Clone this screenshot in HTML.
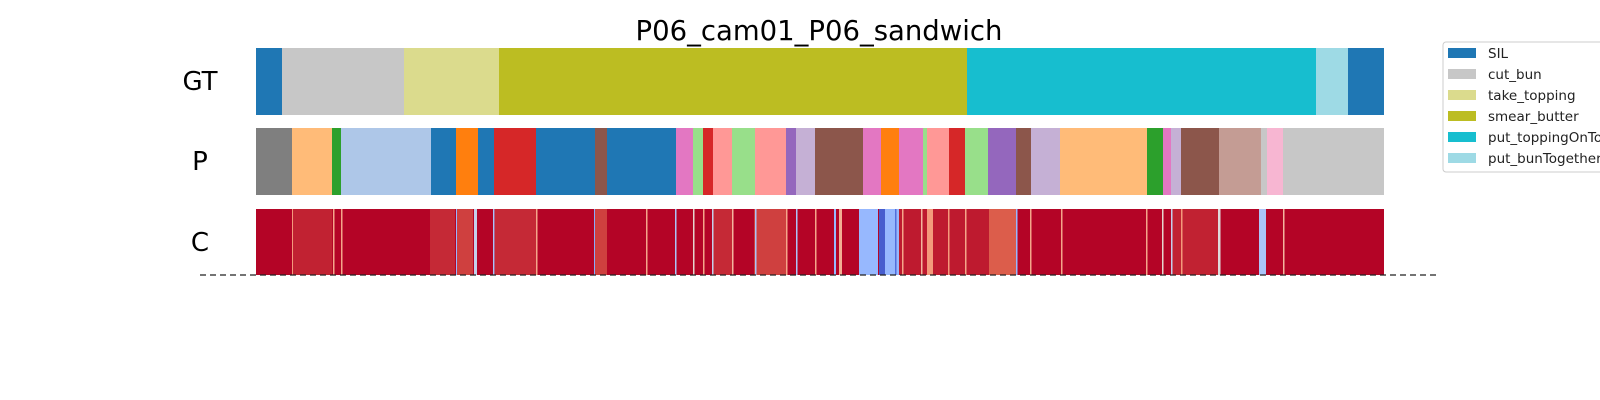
<!DOCTYPE html>
<html><head><meta charset="utf-8"><style>
html,body{margin:0;padding:0;background:#fff;width:1600px;height:400px;overflow:hidden}
svg{display:block;font-family:"DejaVu Sans","Liberation Sans",sans-serif}
</style></head><body>
<svg id="chart" width="1600" height="400" xmlns="http://www.w3.org/2000/svg">
<text x="819" y="40" font-size="27.5" text-anchor="middle" fill="#000">P06_cam01_P06_sandwich</text>
<text x="200" y="90" font-size="26" text-anchor="middle" fill="#000">GT</text>
<text x="200" y="170" font-size="26" text-anchor="middle" fill="#000">P</text>
<text x="200" y="251" font-size="26" text-anchor="middle" fill="#000">C</text>
<g id="gt"></g>
<g id="pr"></g>
<g id="cf"></g>
<line x1="200" y1="275" x2="1440" y2="275" stroke="#222" stroke-width="1.3" stroke-dasharray="6,4"/>
<g>
<rect x="1443" y="42" width="170" height="130" rx="3" fill="#fff" stroke="#ccc"/>
<g id="leg"></g>
</g>
</svg>
<script>
// frames: 0..totalFrames
const totalFrames = 1128;
const gtBounds = [0, 26, 148, 243, 711, 1060, 1092, 1128];
const gtLabels = ["SIL","cut_bun","take_topping","smear_butter","put_toppingOnTop","put_bunTogether","SIL"];
const pBounds = [0,36,76,85,175,200,222,238,280,339,351,420,437,447,457,476,499,530,540,559,607,625,643,667,671,693,709,732,760,775,804,891,907,915,925,963,1005,1011,1027,1128];
const pColors = ["#7f7f7f","#ffbb78","#2ca02c","#aec7e8","#1f77b4","#ff7f0e","#1f77b4","#d62728","#1f77b4","#8c564b","#1f77b4","#e377c2","#98df8a","#d62728","#ff9896","#98df8a","#ff9896","#9467bd","#c5b0d5","#8c564b","#e377c2","#ff7f0e","#e377c2","#98df8a","#ff9896","#d62728","#98df8a","#9467bd","#8c564b","#c5b0d5","#ffbb78","#2ca02c","#e377c2","#c5b0d5","#8c564b","#c49c94","#c7c7c7","#f7b6d2","#c7c7c7"];
const cStart = [36,37,77,85,174,174,200,201,218,237,239,280,338,339,390,419,437,447,456,456,476,498,499,530,540,559,578,583,603,610,610,623,629,639,643,646,665,671,671,692,709,733,760,774,805,890,906,915,915,925,962,1003,1027];
const cEnd   = [37.5,76,78.5,86.5,175.5,199,201.5,217,221,238.5,280,281.5,339.5,351,391.5,420.5,438.5,448.5,476,457.5,477.5,530,500.5,531.5,541.5,560.5,580,586,610,622,622,629,643,640.5,733,647.5,666.5,672.5,677,693.5,710.5,760,761.5,775.5,806.5,891.5,907.5,962,916.5,926.5,964.5,1010,1028.5];
const cValue = [0.75,0.96,0.72,0.72,0.5,0.95,0.35,0.92,0.45,0.4,0.95,0.72,0.3,0.92,0.72,0.4,0.55,0.72,0.95,0.45,0.68,0.92,0.4,0.72,0.4,0.72,0.35,0.7,0.35,0.92,0.35,0.05,0.35,0.1,0.97,0.72,0.68,0.72,0.75,0.75,0.72,0.88,0.35,0.72,0.72,0.72,0.55,0.96,0.45,0.75,0.5,0.4,0.68];
const legendLabels = ["SIL","cut_bun","take_topping","smear_butter","put_toppingOnTop","put_bunTogether"];
const legendColors = ["#1f77b4","#c7c7c7","#dbdb8d","#bcbd22","#17becf","#9edae5"];

const X0 = 256, X1 = 1384;
function xs(f){ return X0 + f*(X1-X0)/totalFrames; }
const NS = "http://www.w3.org/2000/svg";
const gtColor = {"SIL":"#1f77b4","cut_bun":"#c7c7c7","take_topping":"#dbdb8d","smear_butter":"#bcbd22","put_toppingOnTop":"#17becf","put_bunTogether":"#9edae5"};
function rect(parent,x,y,w,h,fill){
  const r=document.createElementNS(NS,"rect");
  r.setAttribute("x",x);r.setAttribute("y",y);r.setAttribute("width",Math.max(w,0.5));r.setAttribute("height",h);r.setAttribute("fill",fill);
  parent.appendChild(r);return r;
}
const gt=document.getElementById("gt");
for(let i=0;i<gtLabels.length;i++){
  const r=rect(gt,xs(gtBounds[i]),48,xs(gtBounds[i+1])-xs(gtBounds[i]),67,gtColor[gtLabels[i]]);
  
  
}
const pr=document.getElementById("pr");
for(let i=0;i<pColors.length;i++){
  const r=rect(pr,xs(pBounds[i]),128,xs(pBounds[i+1])-xs(pBounds[i]),67,pColors[i]);
  
  
}
const cmap=[[0,[59,76,192]],[0.125,[89,119,227]],[0.25,[123,159,249]],[0.375,[158,190,255]],[0.5,[221,220,220]],[0.625,[242,203,183]],[0.75,[244,154,123]],[0.875,[222,97,77]],[1,[180,4,38]]];
function cw(v){
  v=Math.max(0,Math.min(1,v));
  for(let i=0;i<cmap.length-1;i++){
    const a=cmap[i],b=cmap[i+1];
    if(v<=b[0]){const t=(v-a[0])/(b[0]-a[0]);
      return "rgb("+a[1].map((c,k)=>Math.round(c+(b[1][k]-c)*t)).join(",")+")";}
  }
  return "rgb(180,4,38)";
}
const cf=document.getElementById("cf");
const base=rect(cf,xs(0),209,xs(totalFrames)-xs(0),66,cw(1));


for(let i=0;i<cStart.length;i++){
  const r=rect(cf,xs(cStart[i]),209,xs(cEnd[i])-xs(cStart[i]),66,cw(cValue[i]));
  
  
}
const leg=document.getElementById("leg");
for(let i=0;i<legendLabels.length;i++){
  const y=53+i*21;
  const p=rect(leg,1448,y-5,28,10,legendColors[i]);
  
  
  const t=document.createElementNS(NS,"text");
  t.setAttribute("x",1488);t.setAttribute("y",y+5);t.setAttribute("font-size","13.5");t.setAttribute("fill","#222");
  t.textContent=legendLabels[i];
  
  
  leg.appendChild(t);
}
</script>
</body></html>
